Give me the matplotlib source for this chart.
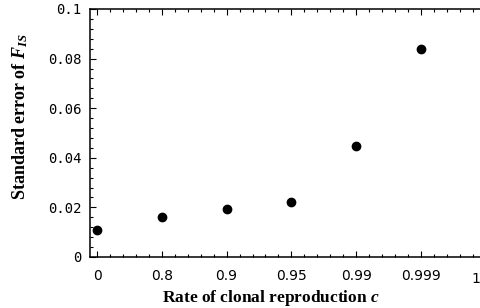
import matplotlib
matplotlib.use("Agg")
import matplotlib.pyplot as plt
from matplotlib.ticker import AutoMinorLocator

plt.rcParams["mathtext.fontset"] = "custom"
plt.rcParams["mathtext.it"] = "Liberation Serif:italic:bold"
plt.rcParams["mathtext.rm"] = "Liberation Serif:bold"

# --- data ---
clonal_rates = ["0", "0.8", "0.9", "0.95", "0.99", "0.999", "1"]
std_err = [0.0109, 0.0163, 0.0195, 0.0223, 0.0449, 0.0837]
y_ticks = [0, 0.02, 0.04, 0.06, 0.08, 0.1]
y_labels = ["0", "0.02", "0.04", "0.06", "0.08", "0.1"]

W, H = 481, 308
fig = plt.figure(figsize=(W / 100, H / 100), dpi=100)
# axes runs past the right edge, the original is cropped there
ax = fig.add_axes([90 / W, 51 / H, 415 / W, 248 / H])

xs = list(range(len(std_err)))
ax.plot(xs, std_err, "o", color="black", markersize=6)

ax.set_xlim(-0.11, 6.3)
ax.set_ylim(0, 0.1)
ax.set_xticks(range(len(clonal_rates)))
# last label ("1") sits on the cropped edge, drawn separately below
ax.set_xticklabels(clonal_rates[:-1] + [""], fontfamily="DejaVu Sans", fontsize=10)
ax.set_yticks(y_ticks)
ax.set_yticklabels(y_labels, fontfamily="DejaVu Sans Mono", fontsize=10)
ax.xaxis.set_minor_locator(AutoMinorLocator(5))
ax.yaxis.set_minor_locator(AutoMinorLocator(5))

ax.tick_params(which="both", direction="in", top=True, right=False, width=0.8)
ax.tick_params(which="major", length=4)
ax.tick_params(which="minor", length=2)
ax.tick_params(axis="x", which="both", pad=9)
ax.tick_params(axis="y", which="major", pad=6)
for s in ax.spines.values():
    s.set_linewidth(1.1)

fig.text(480 / W, 1 - 279 / H, clonal_rates[-1], fontfamily="DejaVu Sans",
         fontsize=10, ha="right", va="center")

# axis titles, placed by hand as in the original
fig.text(271 / W, 1 - 298 / H, "Rate of clonal reproduction $c$",
         fontfamily="Liberation Serif", fontweight="bold", fontsize=12.5,
         ha="center", va="center")
fig.text(20 / W, 1 - 117 / H, "Standard error of $F_{IS}$",
         fontfamily="Liberation Serif", fontweight="bold", fontsize=13,
         ha="center", va="center", rotation=90)

fig.savefig("out.png", dpi=100)
